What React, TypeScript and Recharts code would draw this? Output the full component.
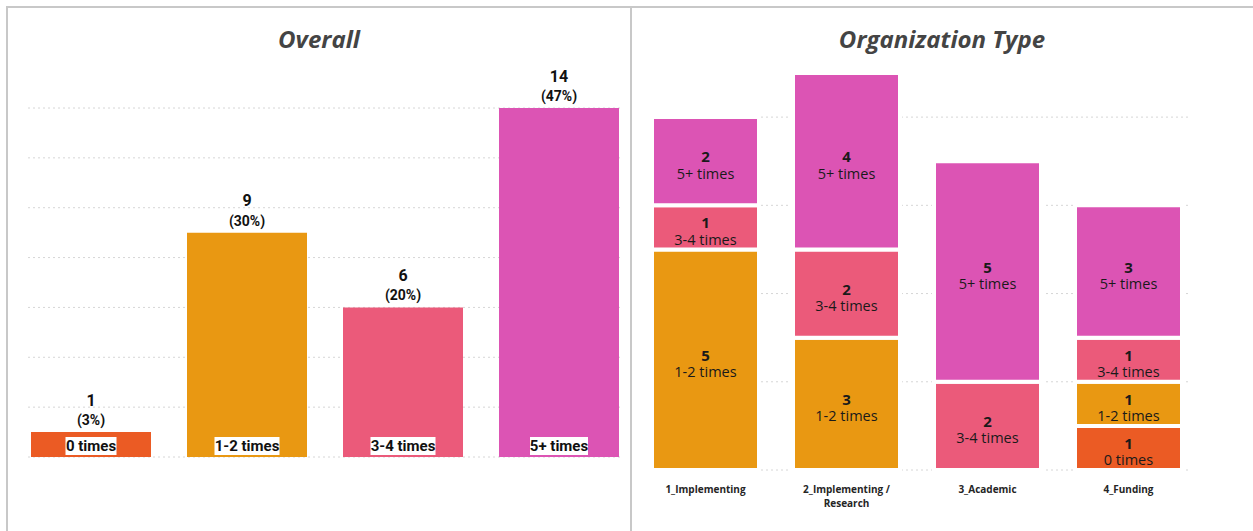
import React from "react";
import { BarChart, Bar, XAxis, YAxis, CartesianGrid, LabelList, Cell } from "recharts";

// frequency of participation
const frequencies = ["0 times", "1-2 times", "3-4 times", "5+ times"];
const overallCounts = [1, 9, 6, 14];
const overallTicks = [0, 2, 4, 6, 8, 10, 12, 14];

// by organization type (stacked, bottom to top)
const orgTypes = ["1_Implementing", "2_Implementing / Research", "3_Academic", "4_Funding"];
const zeroTimes = [0, 0, 0, 1];
const oneTwoTimes = [5, 3, 0, 1];
const threeFourTimes = [1, 2, 2, 1];
const fivePlusTimes = [2, 4, 5, 3];
const orgTicks = [0, 2, 4, 6, 8];

const colors = ["#EB5B24", "#E99812", "#EB5A7A", "#DC54B4"];
const seriesKeys = ["zero", "oneTwo", "threeFour", "fivePlus"];

const total = overallCounts.reduce((a, b) => a + b, 0);

const overallData = frequencies.map((f, i) => ({ name: f, count: overallCounts[i] }));

const orgData = orgTypes.map((t, i) => ({
    name: t,
    zero: zeroTimes[i] || null,
    oneTwo: oneTwoTimes[i] || null,
    threeFour: threeFourTimes[i] || null,
    fivePlus: fivePlusTimes[i] || null,
}));

// dotted grid line; minY skips the line drawn at the plot's top edge
const dotted = (minY: number) => (props: any) => {
    if (props.y1 < minY) return <g key={props.key} />;
    return (
        <line
            key={props.key}
            x1={props.x1}
            x2={props.x2}
            y1={props.y1}
            y2={props.y2}
            stroke="#d6d6d6"
            strokeDasharray="2 3"
            strokeWidth={1}
        />
    );
};

const OverallLabel = (props: any) => {
    const vb = props.viewBox || {};
    const x = props.x ?? vb.x;
    const y = props.y ?? vb.y;
    const width = props.width ?? vb.width;
    const height = props.height ?? vb.height;
    const index = props.index ?? overallCounts.indexOf(props.value);
    const cx = x + width / 2;
    const v = overallCounts[index];
    const name = frequencies[index];
    const pct = Math.round((v / total) * 100);
    const bw = name.length * 7 + 2;
    return (
        <g fontFamily="Roboto" fontWeight={700} fill="#111">
            <text x={cx} y={y - 32} textAnchor="middle" dominantBaseline="central" fontSize={16}>
                {v}
            </text>
            <text x={cx} y={y - 12} textAnchor="middle" dominantBaseline="central" fontSize={14}>
                ({pct}%)
            </text>
            <rect x={cx - bw / 2} y={y + height - 20} width={bw} height={18} fill="#fff" />
            <text x={cx} y={y + height - 11.5} textAnchor="middle" dominantBaseline="central" fontSize={15}>
                {name}
            </text>
        </g>
    );
};

const makeSegLabel = (seriesName: string) => (props: any) => {
    const vb = props.viewBox || {};
    const x = props.x ?? vb.x;
    const y = props.y ?? vb.y;
    const width = props.width ?? vb.width;
    const height = props.height ?? vb.height;
    if (!props.value) return null;
    const cx = x + width / 2;
    const cy = y + height / 2;
    return (
        <g fontFamily="Open Sans" fill="#1a1a1a">
            <text x={cx} y={cy - 5} textAnchor="middle" dominantBaseline="central" fontSize={15} fontWeight={700}>
                {props.value}
            </text>
            <text x={cx} y={cy + 12} textAnchor="middle" dominantBaseline="central" fontSize={14.5}>
                {seriesName}
            </text>
        </g>
    );
};

const OrgTick = (props: any) => {
    const { x, y, payload } = props;
    const label = String(payload.value);
    const parts = label.includes(" / ") ? [label.split(" / ")[0] + " /", label.split(" / ")[1]] : [label];
    return (
        <text x={x} y={y} textAnchor="middle" fontSize={10} fontWeight={700} fill="#252525" fontFamily="Open Sans">
            {parts.map((p, i) => (
                <tspan key={i} x={x} dy={i === 0 ? 23 : 14}>
                    {p}
                </tspan>
            ))}
        </text>
    );
};

export default function App() {
    return (
        <div
            style={{
                position: "absolute",
                left: 0,
                top: 0,
                width: 1253,
                height: 531,
                background: "#fff",
                overflow: "hidden",
            }}
        >
            <div style={{ position: "absolute", left: 0, top: 0 }}>
                <BarChart
                    width={631}
                    height={531}
                    data={overallData}
                    margin={{ top: 108, right: 11, left: 28, bottom: 74 }}
                    barCategoryGap={18}
                >
                    <CartesianGrid vertical={false} horizontal={dotted(0)} />
                    <XAxis dataKey="name" hide padding={{ left: -15, right: -17 }} />
                    <YAxis hide domain={[0, 14]} ticks={overallTicks} />
                    <Bar dataKey="count" isAnimationActive={false}>
                        {overallData.map((d, i) => (
                            <Cell key={d.name} fill={colors[i]} />
                        ))}
                        <LabelList dataKey="count" content={OverallLabel} />
                    </Bar>
                    <text
                        x={319}
                        y={48}
                        textAnchor="middle"
                        fontFamily="Open Sans"
                        fontStyle="italic"
                        fontWeight={700}
                        fontSize={24}
                        fill="#444"
                    >
                        Overall
                    </text>
                </BarChart>
            </div>
            <div style={{ position: "absolute", left: 632, top: 0 }}>
                <BarChart
                    width={621}
                    height={531}
                    data={orgData}
                    margin={{ top: 73, right: 64, left: 19, bottom: 21 }}
                    barCategoryGap={17}
                >
                    <CartesianGrid vertical={false} horizontal={dotted(80)} />
                    <XAxis
                        dataKey="name"
                        height={40}
                        axisLine={false}
                        tickLine={false}
                        tickSize={0}
                        tickMargin={0}
                        interval={0}
                        tick={<OrgTick />}
                        padding={{ left: -16, right: -10 }}
                    />
                    <YAxis hide domain={[0, 9]} ticks={orgTicks} />
                    {seriesKeys.map((k, i) => (
                        <Bar
                            key={k}
                            dataKey={k}
                            stackId="a"
                            fill={colors[i]}
                            stroke="#fff"
                            strokeWidth={4}
                            isAnimationActive={false}
                        >
                            <LabelList dataKey={k} content={makeSegLabel(frequencies[i])} />
                        </Bar>
                    ))}
                    <text
                        x={310}
                        y={48}
                        textAnchor="middle"
                        fontFamily="Open Sans"
                        fontStyle="italic"
                        fontWeight={700}
                        fontSize={24}
                        fill="#444"
                    >
                        Organization Type
                    </text>
                </BarChart>
            </div>
            <div style={{ position: "absolute", left: 6, top: 6, width: 1247, height: 2, background: "#c8c8c8" }} />
            <div style={{ position: "absolute", left: 6, top: 6, width: 2, height: 525, background: "#c8c8c8" }} />
            <div style={{ position: "absolute", left: 630, top: 6, width: 2, height: 525, background: "#c8c8c8" }} />
        </div>
    );
}
